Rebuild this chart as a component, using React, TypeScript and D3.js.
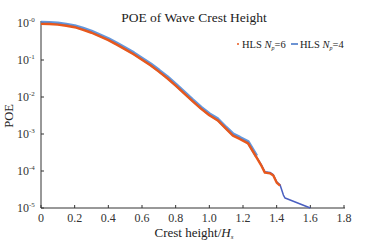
import React from "react";
import * as d3 from "d3";

const xTicks = [0, 0.2, 0.4, 0.6, 0.8, 1.0, 1.2, 1.4, 1.6, 1.8];
const xTickLabels = ["0", "0.2", "0.4", "0.6", "0.8", "1.0", "1.2", "1.4", "1.6", "1.8"];
const yTicks = [1, 1e-1, 1e-2, 1e-3, 1e-4, 1e-5];
const yTickExps = ["-0", "-1", "-2", "-3", "-4", "-5"];

// HLS Np=6 (dots, orange)
const np6X = [0, 0.05, 0.1, 0.15, 0.2, 0.25, 0.3, 0.35, 0.4, 0.45, 0.5, 0.55, 0.6, 0.65, 0.7, 0.75, 0.8, 0.85, 0.9, 0.95, 1.0, 1.05, 1.1, 1.14, 1.18, 1.23, 1.28, 1.31, 1.33, 1.36, 1.38, 1.4, 1.42];
const np6Log = [-0.01, -0.015, -0.03, -0.06, -0.1, -0.17, -0.25, -0.35, -0.45, -0.57, -0.7, -0.83, -0.98, -1.13, -1.3, -1.48, -1.68, -1.89, -2.1, -2.3, -2.48, -2.62, -2.85, -3.03, -3.12, -3.24, -3.62, -3.85, -4.03, -4.05, -4.11, -4.3, -4.38];

// HLS Np=4 (line, blue)
const np4X = [0, 0.05, 0.1, 0.15, 0.2, 0.25, 0.3, 0.35, 0.4, 0.45, 0.5, 0.55, 0.6, 0.65, 0.7, 0.75, 0.8, 0.85, 0.9, 0.95, 1.0, 1.05, 1.1, 1.14, 1.18, 1.23, 1.28, 1.31, 1.33, 1.36, 1.38, 1.4, 1.42, 1.44, 1.45, 1.6];
const np4Log = [-0.005, -0.01, -0.025, -0.055, -0.095, -0.165, -0.245, -0.345, -0.445, -0.565, -0.695, -0.825, -0.975, -1.125, -1.295, -1.475, -1.675, -1.885, -2.095, -2.295, -2.475, -2.615, -2.845, -3.02, -3.11, -3.23, -3.61, -3.84, -4.02, -4.04, -4.1, -4.29, -4.37, -4.65, -4.73, -5.0];

const W = 369;
const H = 245;
const serif = "'Liberation Serif', 'DejaVu Serif', serif";

export default function App() {
  const x = d3.scaleLinear().domain([0, 1.8]).range([41, 344]);
  const y = d3.scaleLog().domain([1e-5, 1]).range([208, 23]);

  const line = d3
    .line<[number, number]>()
    .x((d) => x(d[0]))
    .y((d) => y(Math.pow(10, d[1])))
    .curve(d3.curveLinear);

  const pts6 = np6X.map((v, i) => [v, np6Log[i]] as [number, number]);
  const pts4 = np4X.map((v, i) => [v, np4Log[i]] as [number, number]);
  const d6 = line(pts6) || "";
  const d4 = line(pts4) || "";
  const d4body = line(pts4.filter((p) => p[0] <= 1.3)) || "";

  return (
    <svg width={W} height={H} style={{ position: "absolute", left: 0, top: 0, background: "#fff" }} fontFamily={serif}>
      <rect x={0} y={0} width={W} height={H} fill="#fff" />
      <text x={194} y={22} textAnchor="middle" fontSize={13.5} fill="#222">POE of Wave Crest Height</text>

      {/* axes */}
      <line x1={41} x2={41} y1={y(1) - 2} y2={208} stroke="#333" strokeWidth={1} />
      <line x1={41} x2={345} y1={208} y2={208} stroke="#333" strokeWidth={1} />
      {xTicks.map((t, i) => (
        <g key={"x" + i}>
          <line x1={x(t)} x2={x(t)} y1={208} y2={205} stroke="#333" />
          <text x={x(t)} y={222} textAnchor="middle" fontSize={12} fill="#333">{xTickLabels[i]}</text>
        </g>
      ))}
      {yTicks.map((t, i) => (
        <g key={"y" + i}>
          <line x1={41} x2={44} y1={y(t)} y2={y(t)} stroke="#333" />
          <text x={29} y={y(t) + 4} textAnchor="end" fontSize={12} fill="#333">10</text>
          <text x={29} y={y(t) - 1} textAnchor="start" fontSize={7} fill="#333">{yTickExps[i]}</text>
        </g>
      ))}

      {/* curves */}
      <path d={d4} fill="none" stroke="#4a5fc0" strokeWidth={1.5} strokeLinejoin="round" />
      <path d={d4body} fill="none" stroke="#4a86d6" strokeWidth={3.6} opacity={0.85} strokeLinejoin="round" transform="translate(0,-0.6)" />
      <path d={d6} fill="none" stroke="#e8581c" strokeWidth={2.4} strokeLinejoin="round" transform="translate(0,0.5)" />

      {/* legend */}
      <circle cx={238} cy={44} r={1} fill="#e8581c" />
      <text x={242} y={48} fontSize={10.5} fill="#222">
        HLS <tspan fontStyle="italic">N</tspan>
        <tspan fontStyle="italic" fontSize={6} dy={2}>p</tspan>
        <tspan dy={-2}>=6</tspan>
      </text>
      <line x1={291} x2={298} y1={44} y2={44} stroke="#3b6fc4" strokeWidth={1.5} />
      <text x={300} y={48} fontSize={10.5} fill="#222">
        HLS <tspan fontStyle="italic">N</tspan>
        <tspan fontStyle="italic" fontSize={6} dy={2}>p</tspan>
        <tspan dy={-2}>=4</tspan>
      </text>

      {/* axis labels */}
      <text transform="translate(13,116) rotate(-90)" textAnchor="middle" fontSize={12.5} fill="#222">POE</text>
      <text x={194} y={237} textAnchor="middle" fontSize={13} fill="#222">
        Crest height/<tspan fontStyle="italic">H</tspan>
        <tspan fontStyle="italic" fontSize={7} dy={2}>s</tspan>
      </text>
    </svg>
  );
}
